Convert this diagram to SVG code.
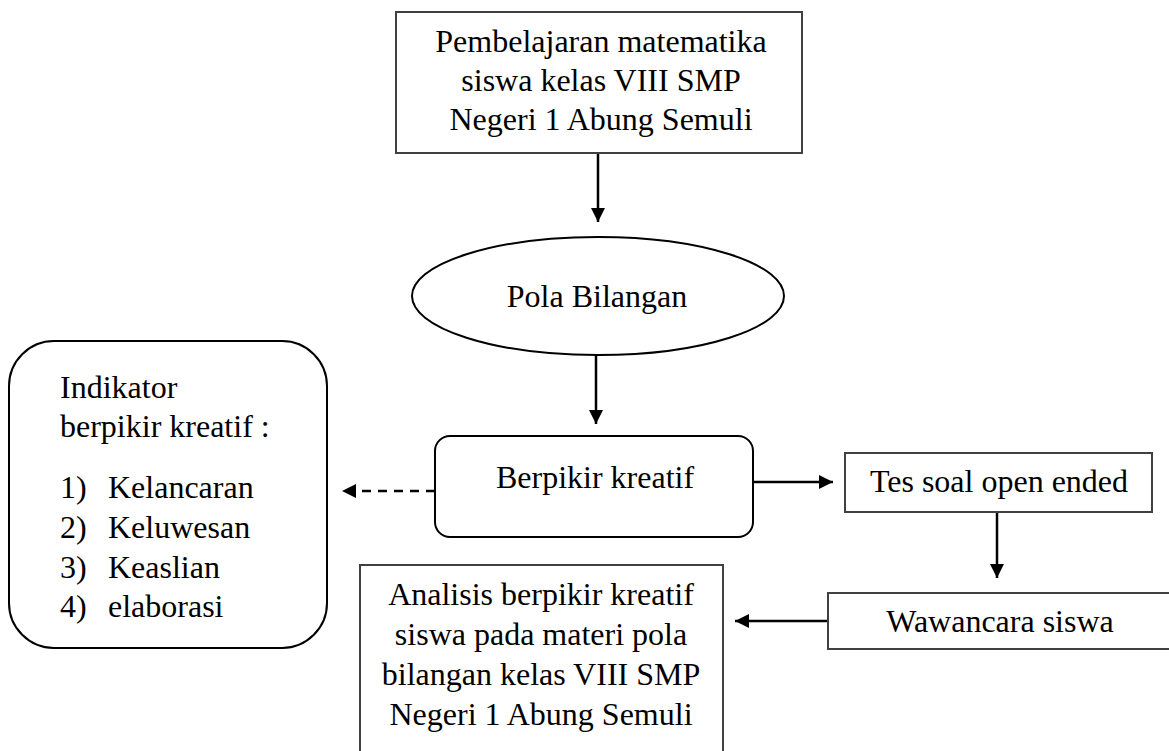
<svg xmlns="http://www.w3.org/2000/svg" width="1169" height="751" viewBox="0 0 1169 751">
<style>
text{font-family:"Liberation Serif","Times New Roman",serif;font-size:32px;fill:#000}
.c{text-anchor:middle}
.box{fill:#fff;stroke:#404040;stroke-width:2}
.rbox{fill:#fff;stroke:#000;stroke-width:2}
.ln{fill:none;stroke:#000;stroke-width:2.5}
.dash{stroke-dasharray:9 7}
</style>
<defs>
<marker id="ah" markerUnits="userSpaceOnUse" markerWidth="14" markerHeight="14" viewBox="0 0 14 14" refX="14" refY="7" orient="auto">
<path d="M0,0 L14,7 L0,14 Z" fill="#000"/>
</marker>
</defs>
<rect width="1169" height="751" fill="#fff"/>
<g id="connectors">
<line class="ln" x1="598" y1="153" x2="598" y2="222" marker-end="url(#ah)"/>
<line class="ln" x1="596" y1="355" x2="596" y2="424" marker-end="url(#ah)"/>
<line class="ln dash" x1="435" y1="491" x2="342" y2="491" marker-end="url(#ah)"/>
<line class="ln" x1="753" y1="482" x2="833" y2="482" marker-end="url(#ah)"/>
<line class="ln" x1="997" y1="512" x2="997" y2="578" marker-end="url(#ah)"/>
<line class="ln" x1="828" y1="621" x2="735" y2="621" marker-end="url(#ah)"/>
</g>
<g id="node-pembelajaran">
<rect class="box" x="396" y="12" width="406" height="141"/>
<text class="c" x="601" y="52">Pembelajaran matematika</text>
<text class="c" x="601" y="91">siswa kelas VIII SMP</text>
<text class="c" x="601" y="130">Negeri 1 Abung Semuli</text>
</g>
<g id="node-pola">
<ellipse class="rbox" cx="598" cy="296" rx="186" ry="59"/>
<text class="c" x="597" y="307">Pola Bilangan</text>
</g>
<g id="node-indikator">
<rect class="rbox" x="9" y="341" width="318" height="307" rx="45" ry="45"/>
<text x="60" y="398">Indikator</text>
<text x="60" y="437">berpikir kreatif :</text>
<text x="60" y="498">1)</text><text x="108" y="498">Kelancaran</text>
<text x="60" y="538">2)</text><text x="108" y="538">Keluwesan</text>
<text x="60" y="578">3)</text><text x="108" y="578">Keaslian</text>
<text x="60" y="617">4)</text><text x="108" y="617">elaborasi</text>
</g>
<g id="node-berpikir">
<rect class="rbox" x="435" y="436" width="318" height="101" rx="15" ry="15"/>
<text class="c" x="595" y="488">Berpikir kreatif</text>
</g>
<g id="node-tes">
<rect class="box" x="845" y="453" width="307" height="59"/>
<text class="c" x="999" y="492">Tes soal open ended</text>
</g>
<g id="node-wawancara">
<rect class="box" x="828" y="593" width="350" height="56"/>
<text class="c" x="1000" y="632">Wawancara siswa</text>
</g>
<g id="node-analisis">
<rect class="box" x="360" y="565" width="363" height="200"/>
<text class="c" x="541" y="605">Analisis berpikir kreatif</text>
<text class="c" x="541" y="645">siswa pada materi pola</text>
<text class="c" x="541" y="685">bilangan kelas VIII SMP</text>
<text class="c" x="541" y="725">Negeri 1 Abung Semuli</text>
</g>
</svg>
